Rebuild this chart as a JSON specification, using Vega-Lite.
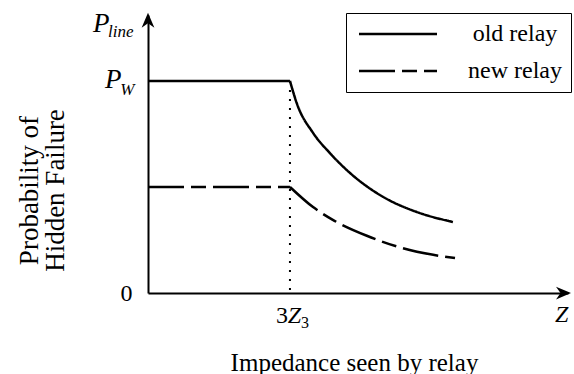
{
  "$schema": "https://vega.github.io/schema/vega-lite/v6.json",
  "width": 420,
  "height": 278,
  "autosize": {"type": "none"},
  "padding": {"left": 148, "top": 15, "right": 6, "bottom": 81},
  "background": "white",
  "config": {
    "view": {"stroke": null},
    "font": "'Liberation Serif', 'Times New Roman', serif",
    "axis": {"domainColor": "black", "domainWidth": 2, "ticks": false, "grid": false, "labelColor": "black", "titleColor": "black", "labelFont": "'Liberation Serif', 'Times New Roman', serif", "titleFont": "'Liberation Serif', 'Times New Roman', serif", "titleFontWeight": "normal"}
  },
  "datasets": {
    "curves": [
      {"relay": "old relay", "part": "flat", "z": 0, "p": 1.0},
      {"relay": "old relay", "part": "flat", "z": 33.8, "p": 1.0},
      {"relay": "old relay", "part": "curve", "z": 33.8, "p": 1.0},
      {"relay": "old relay", "part": "curve", "z": 35.4, "p": 0.896},
      {"relay": "old relay", "part": "curve", "z": 39.3, "p": 0.755},
      {"relay": "old relay", "part": "curve", "z": 43.3, "p": 0.66},
      {"relay": "old relay", "part": "curve", "z": 48.1, "p": 0.566},
      {"relay": "old relay", "part": "curve", "z": 56.0, "p": 0.453},
      {"relay": "old relay", "part": "curve", "z": 64.0, "p": 0.382},
      {"relay": "old relay", "part": "curve", "z": 72.6, "p": 0.335},
      {"relay": "new relay", "part": "flat", "z": 0, "p": 0.5},
      {"relay": "new relay", "part": "flat", "z": 33.8, "p": 0.5},
      {"relay": "new relay", "part": "curve", "z": 33.8, "p": 0.5},
      {"relay": "new relay", "part": "curve", "z": 39.3, "p": 0.405},
      {"relay": "new relay", "part": "curve", "z": 44.0, "p": 0.345},
      {"relay": "new relay", "part": "curve", "z": 52.1, "p": 0.27},
      {"relay": "new relay", "part": "curve", "z": 60.0, "p": 0.215},
      {"relay": "new relay", "part": "curve", "z": 67.9, "p": 0.18},
      {"relay": "new relay", "part": "curve", "z": 73.1, "p": 0.165}
    ],
    "labels": [
      {"role": "bigP", "text": "P", "z": -10.24, "p": 0.967},
      {"role": "bigP", "text": "P", "z": -13.1, "p": 1.231},
      {"role": "sub", "text": "W", "z": -6.6, "p": 0.934},
      {"role": "sub", "text": "line", "z": -9.52, "p": 1.208},
      {"role": "num", "text": "3", "z": 30.5, "p": -0.142},
      {"role": "z", "text": "Z", "z": 33.3, "p": -0.142},
      {"role": "subnum", "text": "3", "z": 36.4, "p": -0.165},
      {"role": "z", "text": "Z", "z": 96.9, "p": -0.137}
    ]
  },
  "layer": [
    {
      "data": {"values": [{"z": 33.8, "p0": 0, "p1": 1.0}]},
      "mark": {"type": "rule", "color": "black", "strokeWidth": 2, "strokeDash": [2, 7]},
      "encoding": {
        "x": {"field": "z", "type": "quantitative", "scale": {"domain": [0, 100], "nice": false}},
        "y": {"field": "p1", "type": "quantitative", "scale": {"domain": [0, 1.311], "nice": false}},
        "y2": {"field": "p0"}
      }
    },
    {
      "data": {"name": "curves"},
      "mark": {"type": "line", "color": "black", "strokeWidth": 2.5, "interpolate": "monotone"},
      "encoding": {
        "x": {"field": "z", "type": "quantitative", "scale": {"domain": [0, 100], "nice": false},
          "axis": {"title": "Impedance seen by relay", "labels": false, "titleFontSize": 25, "titleX": 206, "titleY": 77, "titleBaseline": "alphabetic", "titleAlign": "center"}},
        "y": {"field": "p", "type": "quantitative", "scale": {"domain": [0, 1.311], "nice": false},
          "axis": {"title": ["Probability of", "Hidden Failure"], "values": [0], "format": "d", "labelFontSize": 24, "labelPadding": 16, "titleFontSize": 27, "titleLineHeight": 26, "titleAngle": -90, "titleX": -111, "titleY": 175, "titleBaseline": "alphabetic", "titleAlign": "center"}},
        "detail": {"field": "part"},
        "strokeDash": {"field": "relay", "type": "nominal",
          "scale": {"domain": ["old relay", "new relay"], "range": [[1, 0], [36, 7, 15, 7]]},
          "legend": {"title": null, "orient": "none", "legendX": 198, "legendY": -2, "strokeColor": "black", "padding": 9, "symbolOffset": 31, "symbolType": "M -7.8 0 L 7.8 0", "symbolSize": 100, "symbolStrokeWidth": 2.5, "symbolStrokeColor": "black", "labelFont": "'Liberation Serif', 'Times New Roman', serif", "labelFontSize": 24, "labelColor": "black", "labelAlign": "center", "labelOffset": 105, "rowPadding": 13, "fillColor": "white"}}
      }
    },
    {
      "data": {"values": [{"z": 100, "p": 0, "dir": "right"}]},
      "mark": {"type": "point", "shape": "M 0.4 0 L -1.6 -0.85 L -1 0 L -1.6 0.85 Z", "filled": true, "color": "black", "size": 225, "opacity": 1},
      "encoding": {"x": {"field": "z", "type": "quantitative"}, "y": {"field": "p", "type": "quantitative"}}
    },
    {
      "data": {"values": [{"z": 0, "p": 1.311, "dir": "up"}]},
      "mark": {"type": "point", "shape": "M 0 -0.3 L -0.85 1.7 L 0 1.1 L 0.85 1.7 Z", "filled": true, "color": "black", "size": 225, "opacity": 1},
      "encoding": {"x": {"field": "z", "type": "quantitative"}, "y": {"field": "p", "type": "quantitative"}}
    },
    {
      "data": {"name": "labels"},
      "transform": [{"filter": "datum.role == 'bigP'"}],
      "mark": {"type": "text", "font": "'Liberation Serif', 'Times New Roman', serif", "fontStyle": "italic", "fontSize": 27, "align": "left", "baseline": "alphabetic", "color": "black"},
      "encoding": {"x": {"field": "z", "type": "quantitative"}, "y": {"field": "p", "type": "quantitative"}, "text": {"field": "text"}}
    },
    {
      "data": {"name": "labels"},
      "transform": [{"filter": "datum.role == 'z'"}],
      "mark": {"type": "text", "font": "'Liberation Serif', 'Times New Roman', serif", "fontStyle": "italic", "fontSize": 24, "align": "left", "baseline": "alphabetic", "color": "black"},
      "encoding": {"x": {"field": "z", "type": "quantitative"}, "y": {"field": "p", "type": "quantitative"}, "text": {"field": "text"}}
    },
    {
      "data": {"name": "labels"},
      "transform": [{"filter": "datum.role == 'num'"}],
      "mark": {"type": "text", "font": "'Liberation Serif', 'Times New Roman', serif", "fontSize": 24, "align": "left", "baseline": "alphabetic", "color": "black"},
      "encoding": {"x": {"field": "z", "type": "quantitative"}, "y": {"field": "p", "type": "quantitative"}, "text": {"field": "text"}}
    },
    {
      "data": {"name": "labels"},
      "transform": [{"filter": "datum.role == 'sub'"}],
      "mark": {"type": "text", "font": "'Liberation Serif', 'Times New Roman', serif", "fontStyle": "italic", "fontSize": 17, "align": "left", "baseline": "alphabetic", "color": "black"},
      "encoding": {"x": {"field": "z", "type": "quantitative"}, "y": {"field": "p", "type": "quantitative"}, "text": {"field": "text"}}
    },
    {
      "data": {"name": "labels"},
      "transform": [{"filter": "datum.role == 'subnum'"}],
      "mark": {"type": "text", "font": "'Liberation Serif', 'Times New Roman', serif", "fontSize": 16, "align": "left", "baseline": "alphabetic", "color": "black"},
      "encoding": {"x": {"field": "z", "type": "quantitative"}, "y": {"field": "p", "type": "quantitative"}, "text": {"field": "text"}}
    }
  ]
}
